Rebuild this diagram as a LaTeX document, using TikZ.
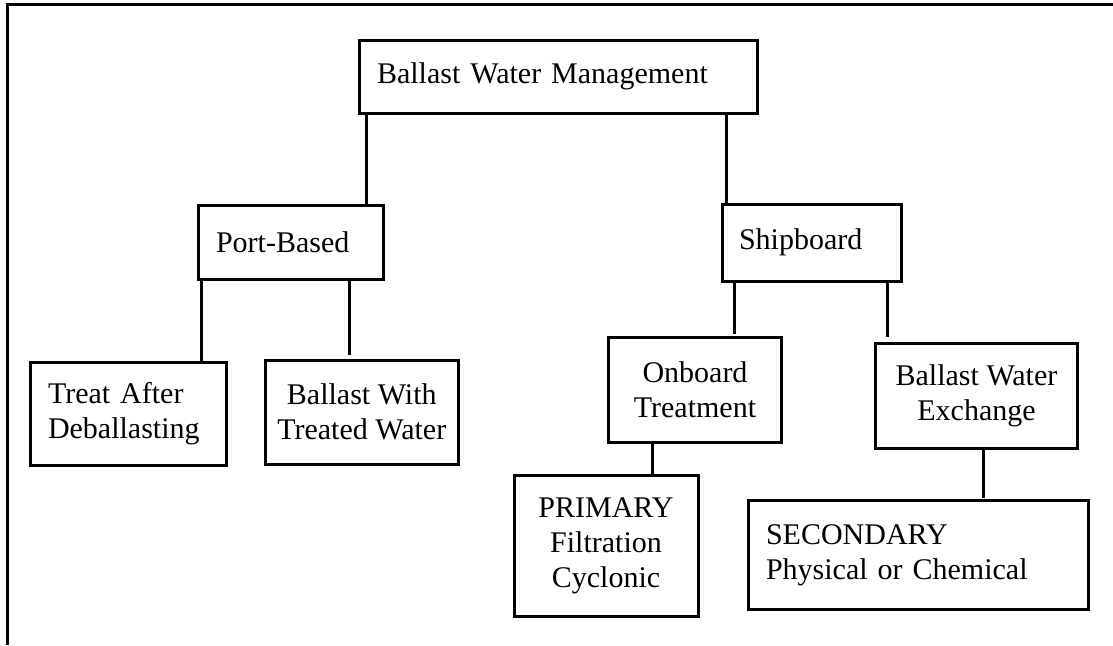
\documentclass[tikz,border=0pt]{standalone}
\usepackage{fontspec}
\setmainfont{Liberation Serif}
\begin{document}
\begin{tikzpicture}[x=1pt,y=-1pt,
  box/.style={draw, line width=3pt, inner ysep=0pt, font=\fontsize{30}{35}\selectfont},
  lbox/.style={box, align=left},
  cbox/.style={box, align=center, inner xsep=0pt},
  link/.style={line width=3pt}]
\useasboundingbox (0,0) rectangle (1113,645);
\draw[line width=3pt] (1113,4.7) -- (7,4.7) -- (7,645);

\node[lbox, inner xsep=17.5pt, text width=362.5pt, minimum height=73pt] (bwm) at (558.25,76.5) {Ballast Water Management};
\node[lbox, inner xsep=18pt, text width=149pt, minimum height=74pt] (pb) at (290.5,242) {Port-Based};
\node[lbox, inner xsep=17pt, text width=145pt, minimum height=77pt] (sb) at (811.5,242.5) {Shipboard};
\node[lbox, inner xsep=17.5pt, text width=161pt, minimum height=103.5pt] (ta) at (128.5,413.75) {Treat After\\Deballasting};
\node[cbox, minimum width=192.5pt, minimum height=104pt] (bwt) at (361.75,412) {Ballast With\\Treated Water};
\node[cbox, minimum width=173pt, minimum height=105pt] (ot) at (695,389.5) {Onboard\\Treatment};
\node[cbox, minimum width=202pt, minimum height=105pt] (bwe) at (976.5,395.5) {Ballast Water\\Exchange};
\node[cbox, minimum width=184pt, minimum height=140.5pt] (pri) at (606,545.75) {PRIMARY\\Filtration\\Cyclonic};
\node[lbox, inner xsep=18pt, text width=304pt, minimum height=109pt] (sec) at (918,555) {SECONDARY\\Physical or Chemical};

\draw[link] (bwm.south -| 366,0) -- (pb.north -| 366,0);
\draw[link] (bwm.south -| 726,0) -- (sb.north -| 726,0);
\draw[link] (pb.south -| 201,0) -- (ta.north -| 201,0);
\draw[link, shorten >=4pt] (pb.south -| 349,0) -- (bwt.north -| 349,0);
\draw[link, shorten >=2pt] (sb.south -| 734,0) -- (ot.north -| 734,0);
\draw[link, shorten >=5pt] (sb.south -| 887,0) -- (bwe.north -| 887,0);
\draw[link] (ot.south -| 652,0) -- (pri.north -| 652,0);
\draw[link, shorten >=1.5pt] (bwe.south -| 983,0) -- (sec.north -| 983,0);
\end{tikzpicture}
\end{document}
